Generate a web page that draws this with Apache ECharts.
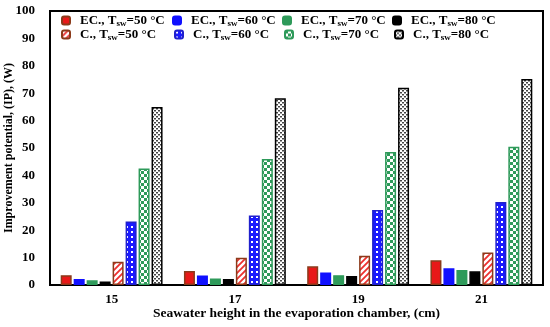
<!DOCTYPE html>
<html><head><meta charset="utf-8">
<script src="https://cdn.jsdelivr.net/npm/echarts@6/dist/echarts.min.js"></script>
<style>html,body{margin:0;padding:0;background:#fff}#c{width:550px;height:327px}</style>
</head><body><div id="c"></div>
<script>
const categories = ['15', '17', '19', '21'];
const ec50 = [3.6, 5.1, 6.8, 9.0];
const ec60 = [2.2, 3.5, 4.6, 6.1];
const ec70 = [1.7, 2.4, 3.6, 5.5];
const ec80 = [1.3, 2.2, 3.3, 5.0];
const c50 = [8.5, 9.9, 10.7, 11.9];
const c60 = [23.2, 25.4, 27.4, 30.3];
const c70 = [42.5, 46.0, 48.5, 50.5];
const c80 = [65.0, 68.2, 72.0, 75.2];
const yTicks = [0, 100, 10];

function pat(w, h, draw) {
  const cv = document.createElement('canvas');
  cv.width = w; cv.height = h;
  const g = cv.getContext('2d');
  draw(g);
  return { image: cv, repeat: 'repeat' };
}
const stripe = pat(6, 6, g => {
  g.fillStyle = '#fff'; g.fillRect(0, 0, 6, 6);
  g.strokeStyle = '#ee3030'; g.lineWidth = 1.8;
  g.beginPath(); g.moveTo(-1, 7); g.lineTo(7, -1); g.moveTo(-4, 4); g.lineTo(4, -4); g.moveTo(2, 10); g.lineTo(10, 2); g.stroke();
});
const dots = pat(5, 5, g => {
  g.fillStyle = '#1a1aff'; g.fillRect(0, 0, 5, 5);
  g.fillStyle = '#fff'; g.fillRect(1, 1, 2, 2);
});
const checker = pat(6, 6, g => {
  g.fillStyle = '#fff'; g.fillRect(0, 0, 6, 6);
  g.fillStyle = '#2e9a5a'; g.fillRect(0, 0, 3, 3); g.fillRect(3, 3, 3, 3);
});
const zig = pat(4, 4, g => {
  g.fillStyle = '#fff'; g.fillRect(0, 0, 4, 4);
  g.fillStyle = '#444'; g.fillRect(0, 0, 2, 1.5); g.fillRect(2, 2, 2, 1.5);
});

const F = 'Liberation Serif';
const rich = { s: { fontSize: 9, fontWeight: 'bold', fontFamily: F, color: '#000', padding: [7, 0, 0, 0] } };
const seriesDefs = [
  ['EC., T{s|sw}=50 °C', ec50, '#e81818', '#8b3a1a'],
  ['EC., T{s|sw}=60 °C', ec60, '#1010ff', '#1010ff'],
  ['EC., T{s|sw}=70 °C', ec70, '#2e9a5a', '#2e9a5a'],
  ['EC., T{s|sw}=80 °C', ec80, '#000', '#000'],
  ['C., T{s|sw}=50 °C', c50, stripe, '#8b3a1a'],
  ['C., T{s|sw}=60 °C', c60, dots, '#2020cc'],
  ['C., T{s|sw}=70 °C', c70, checker, '#2e9a5a'],
  ['C., T{s|sw}=80 °C', c80, zig, '#000']
];
const series = seriesDefs.map(d => ({
  name: d[0], type: 'bar', data: d[1], barWidth: 11, barGap: '18%',
  itemStyle: { color: d[2], borderColor: d[3], borderWidth: 1.5 }
}));
const names = seriesDefs.map(d => d[0]);
const legX = [61, 172, 282, 392, 61, 174, 284, 394];
const legend = names.map((n, i) => ({
  data: [n], left: legX[i], top: i < 4 ? 14 : 28, itemWidth: 8, itemHeight: 8, padding: 0,
  textStyle: { fontFamily: F, fontWeight: 'bold', fontSize: 13, color: '#000', padding: [0, 0, 0, 5], rich }
}));
const chart = echarts.init(document.getElementById('c'), null, { renderer: 'canvas' });
chart.setOption({
  animation: false,
  grid: { left: 50, right: 7, top: 11, bottom: 42, show: true, borderColor: '#000', borderWidth: 2, outerBoundsMode: 'none', containLabel: false },
  legend,
  xAxis: {
    type: 'category', data: categories,
    axisLine: { lineStyle: { color: '#000', width: 2 } }, axisTick: { show: false },
    axisLabel: { fontFamily: F, fontWeight: 'bold', fontSize: 13, color: '#000', margin: 8 },
    name: 'Seawater height in the evaporation chamber, (cm)', nameLocation: 'middle', nameGap: 22, nameMoveOverlap: false,
    nameTextStyle: { fontFamily: F, fontWeight: 'bold', fontSize: 13.5, color: '#000' }
  },
  yAxis: {
    type: 'value', min: yTicks[0], max: yTicks[1], interval: yTicks[2],
    axisLine: { show: true, lineStyle: { color: '#000', width: 2 } }, axisTick: { show: false },
    splitLine: { show: false },
    axisLabel: { fontFamily: F, fontWeight: 'bold', fontSize: 13, color: '#000', margin: 15 },
    name: 'Improvement potential, (IP), (W)', nameLocation: 'middle', nameGap: 35, nameMoveOverlap: false,
    nameTextStyle: { fontFamily: F, fontWeight: 'bold', fontSize: 12, color: '#000' }
  },
  series
});
</script></body></html>
